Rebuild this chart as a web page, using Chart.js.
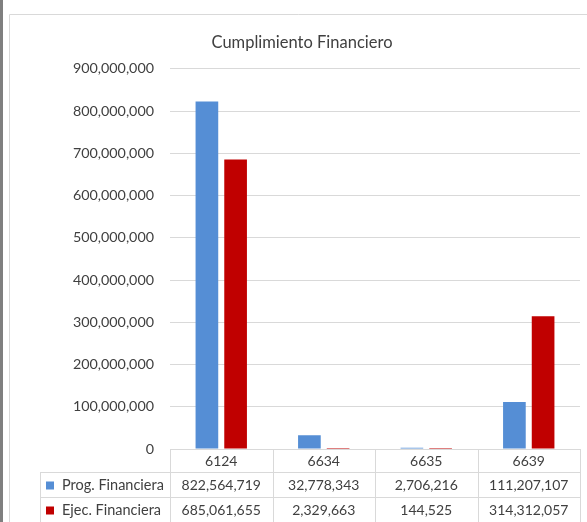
<!DOCTYPE html>
<html>
<head>
<meta charset="utf-8">
<script src="https://cdn.jsdelivr.net/npm/chart.js@4.4.1/dist/chart.umd.min.js"></script>
<style>
    html, body { margin: 0; padding: 0; background: #fff; }
    #wrap { position: relative; width: 587px; height: 522px; }
</style>
</head>
<body>
<div id="wrap"><canvas id="chart" width="587" height="522"></canvas></div>
<script>
// Chart data
const categories = ['6124', '6634', '6635', '6639'];
const progFinanciera = [822564719, 32778343, 2706216, 111207107];
const ejecFinanciera = [685061655, 2329663, 144525, 314312057];
const seriesNames = ['Prog. Financiera', 'Ejec. Financiera'];
const seriesColors = ['#558ED5', '#C00000'];
const chartTitle = 'Cumplimiento Financiero';

const FONT = 'Lato, "Open Sans", sans-serif';
const TEXT_COLOR = '#404040';
const GRID_COLOR = '#D9D9D9';

function fmt(v) {
    return Number(v).toLocaleString('en-US');
}

/**
 * Draws the outer frame and the Excel-like data table under the plot
 */
const dataTablePlugin = {
    id: 'dataTable',
    beforeDraw(chart) {
        const ctx = chart.ctx;
        ctx.save();
        // outer frame
        ctx.fillStyle = '#7F7F7F';
        ctx.fillRect(0, 0, 3, chart.height);
        ctx.strokeStyle = GRID_COLOR;
        ctx.lineWidth = 1;
        ctx.beginPath();
        ctx.moveTo(9.5, chart.height);
        ctx.lineTo(9.5, 14.5);
        ctx.lineTo(chart.width, 14.5);
        ctx.stroke();
        ctx.restore();
    },
    afterDraw(chart) {
        const ctx = chart.ctx;
        const area = chart.chartArea;
        const x = chart.scales.x;
        const rows = [progFinanciera, ejecFinanciera];
        const top = area.bottom;
        const rowLines = [top, top + 23, top + 48, chart.height];
        const legendLeft = 40;
        const half = (area.right - area.left) / categories.length / 2;

        ctx.save();
        ctx.strokeStyle = GRID_COLOR;
        ctx.lineWidth = 1;
        ctx.beginPath();
        // horizontal lines
        ctx.moveTo(area.left, Math.round(rowLines[0]) + 0.5);
        ctx.lineTo(area.right, Math.round(rowLines[0]) + 0.5);
        for (let r = 1; r < 3; r++) {
            ctx.moveTo(legendLeft, Math.round(rowLines[r]) + 0.5);
            ctx.lineTo(area.right, Math.round(rowLines[r]) + 0.5);
        }
        // vertical lines
        ctx.moveTo(legendLeft + 0.5, rowLines[1]);
        ctx.lineTo(legendLeft + 0.5, chart.height);
        for (let i = 0; i <= categories.length; i++) {
            const px = i < categories.length ? x.getPixelForValue(i) - half : x.getPixelForValue(i - 1) + half;
            ctx.moveTo(Math.round(px) + 0.5, rowLines[0]);
            ctx.lineTo(Math.round(px) + 0.5, chart.height);
        }
        ctx.stroke();

        ctx.font = '14px ' + FONT;
        ctx.fillStyle = TEXT_COLOR;
        ctx.textAlign = 'center';
        ctx.textBaseline = 'middle';
        categories.forEach((c, i) => {
            ctx.fillText(c, x.getPixelForValue(i), (rowLines[0] + rowLines[1]) / 2 + 1);
        });
        rows.forEach((vals, r) => {
            const cy = (rowLines[r + 1] + rowLines[r + 2]) / 2 + 1;
            vals.forEach((v, i) => {
                ctx.fillText(fmt(v), x.getPixelForValue(i), cy);
            });
            // legend key
            ctx.fillStyle = seriesColors[r];
            ctx.fillRect(46, cy - 4, 8, 8);
            ctx.fillStyle = TEXT_COLOR;
            ctx.textAlign = 'left';
            ctx.font = '14.5px ' + FONT;
            ctx.fillText(seriesNames[r], 62, cy);
            ctx.font = '14px ' + FONT;
            ctx.textAlign = 'center';
        });
        ctx.restore();
    }
};

new Chart(document.getElementById('chart'), {
    type: 'bar',
    data: {
        labels: categories,
        datasets: [{
            label: seriesNames[0],
            data: progFinanciera,
            backgroundColor: seriesColors[0]
        }, {
            label: seriesNames[1],
            data: ejecFinanciera,
            backgroundColor: seriesColors[1]
        }]
    },
    options: {
        responsive: false,
        animation: false,
        events: [],
        categoryPercentage: 0.56,
        barPercentage: 0.79,
        layout: {
            padding: { left: 24, right: 7, top: 33, bottom: 73 }
        },
        plugins: {
            legend: { display: false },
            tooltip: { enabled: false },
            title: {
                display: true,
                text: chartTitle,
                color: TEXT_COLOR,
                font: { family: FONT, size: 16.5, weight: 'normal' },
                padding: { top: 0, bottom: 16 }
            }
        },
        scales: {
            x: {
                display: false
            },
            y: {
                min: 0,
                max: 900000000,
                afterFit(scale) { scale.width = 146; },
                border: { display: false },
                grid: { color: GRID_COLOR, drawTicks: false },
                ticks: {
                    stepSize: 100000000,
                    padding: 16,
                    color: TEXT_COLOR,
                    font: { family: FONT, size: 14.3 },
                    callback: v => fmt(v)
                }
            }
        }
    },
    plugins: [dataTablePlugin]
});
</script>
</body>
</html>
